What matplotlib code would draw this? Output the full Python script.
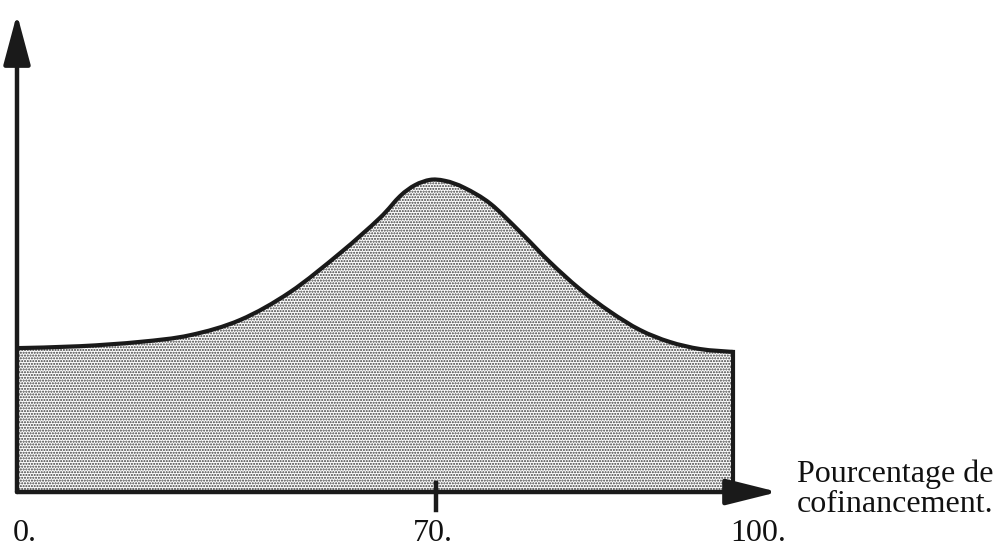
import numpy as np
import matplotlib
matplotlib.use("Agg")
import matplotlib.pyplot as plt
from matplotlib.patches import FancyArrowPatch, PathPatch
from matplotlib.path import Path

# ---- data ----
pct = [0, 10.5, 20.5, 28.9, 37.3, 45.6, 54.0, 60.6, 64.0, 66.5, 69.0,
       70.9, 72.9, 75.5, 78.5, 81.5, 84.5, 87.6, 90.6, 93.6, 96.7, 100]
level = [30.1, 30.5, 31.4, 32.8, 36.0, 41.8, 50.0, 57.3, 61.9, 64.2, 65.3,
         65.1, 63.6, 60.3, 54.4, 48.1, 42.5, 37.7, 33.9, 31.4, 29.9, 29.3]
tick_pos = [0, 70, 100]
tick_labels = ["0.", "70.", "100."]
axis_title = ["Pourcentage de", "cofinancement."]

# ---- schematic (non-linear) x scale: 0-70 and 70-100 drawn at different widths ----
A, B = 419.0, 297.0
def fwd(x):
    x = np.asarray(x, dtype=float)
    return np.where(x <= 70, x * A / 70, A + (x - 70) * B / 30)
def inv(u):
    u = np.asarray(u, dtype=float)
    return np.where(u <= A, u * 70 / A, 70 + (u - A) * 30 / B)

fig = plt.figure(figsize=(10, 5.5), dpi=100)
ax = fig.add_axes([0, 0, 1, 1])
ax.set_xscale("function", functions=(fwd, inv))
ax.set_xlim(float(inv(-17)), float(inv(983)))
ax.set_ylim((492 - 550) / 4.78, 492 / 4.78)
ax.axis("off")
plt.rcParams["hatch.linewidth"] = 1.0


def smooth_path_vertices(xs, ys):
    """Catmull-Rom through the points, expressed as cubic Bezier segments."""
    P = np.column_stack([np.asarray(xs, float), np.asarray(ys, float)])
    n = len(P)
    verts = [tuple(P[0])]
    codes = [Path.MOVETO]
    for i in range(n - 1):
        p0 = P[i - 1] if i > 0 else P[i]
        p1 = P[i]
        p2 = P[i + 1]
        p3 = P[i + 2] if i + 2 < n else P[i + 1]
        c1 = p1 + (p2 - p0) / 6.0
        c2 = p2 - (p3 - p1) / 6.0
        verts += [tuple(c1), tuple(c2), tuple(p2)]
        codes += [Path.CURVE4] * 3
    return verts, codes


v, c = smooth_path_vertices(pct, level)
fv = v + [(pct[-1], 0), (pct[0], 0), (pct[0], level[0])]
fc = c + [Path.LINETO, Path.LINETO, Path.CLOSEPOLY]
ax.add_patch(PathPatch(Path(fv, fc), facecolor="white", edgecolor="#3a3a3a",
                       hatch="......", linewidth=0, zorder=1))
ax.add_patch(PathPatch(Path(v, c), facecolor="none", edgecolor="#1a1a1a",
                       lw=3.0, joinstyle="round", capstyle="round", zorder=3))
ax.plot([100, 100], [0, level[-1]], color="#1a1a1a", lw=3.0, zorder=3)

# axes with arrows
ymax_tip = (492 - 14) / 4.78
xmax_tip = float(inv(778 - 17))
ax.add_patch(FancyArrowPatch((0, 0), (0, ymax_tip),
             arrowstyle="-|>,head_length=31,head_width=8.3", mutation_scale=1,
             shrinkA=0, shrinkB=0, lw=3.2, color="#1a1a1a", zorder=4))
ax.add_patch(FancyArrowPatch((0, 0), (xmax_tip, 0),
             arrowstyle="-|>,head_length=32,head_width=8", mutation_scale=1,
             shrinkA=0, shrinkB=0, lw=3.2, color="#1a1a1a", zorder=4))
# tick at 70
ax.plot([70, 70], [1.8, -3.8], color="#1a1a1a", lw=3.2, zorder=4)

font = dict(family="Liberation Serif", size=23, color="#111111")
ys = (492 - 541) / 4.78
ax.annotate(tick_labels[0], (tick_pos[0], ys), xytext=(-4, 0), textcoords="offset pixels",
            ha="left", va="baseline", **font)
ax.annotate(tick_labels[1], (tick_pos[1], ys), xytext=(-3, 0), textcoords="offset pixels",
            ha="center", va="baseline", **font)
ax.annotate(tick_labels[2], (tick_pos[2], ys), xytext=(-3, 0), textcoords="offset pixels",
            ha="left", va="baseline", **font)

xt = float(inv(797 - 17))
ax.text(xt, (492 - 482) / 4.78, axis_title[0], ha="left", va="baseline", **font)
ax.text(xt, (492 - 512) / 4.78, axis_title[1], ha="left", va="baseline", **font)

fig.savefig("out.png", dpi=100)
